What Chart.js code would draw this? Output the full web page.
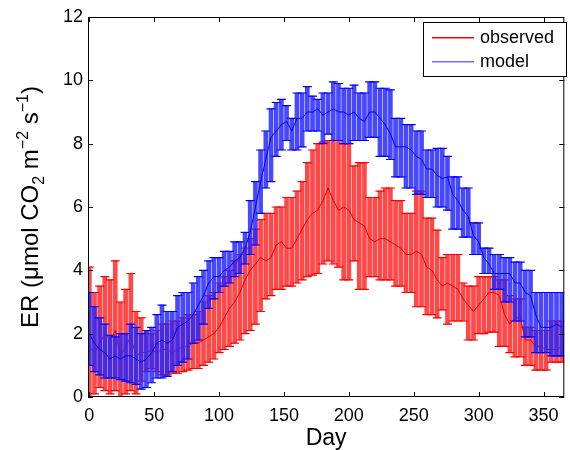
<!DOCTYPE html>
<html>
<head>
<meta charset="utf-8">
<script src="https://cdn.jsdelivr.net/npm/chart.js@4.4.0/dist/chart.umd.min.js"></script>
<style>
  html, body { margin: 0; padding: 0; background: #fff; }
  #wrap { width: 570px; height: 450px; }
</style>
</head>
<body>
<div id="wrap"><canvas id="er" width="570" height="450"></canvas></div>
<script>
// ER through the year: observed vs model, mean with error bars

const days = [0,4,8,12,16,20,24,28,32,36,40,44,48,52,56,60,64,68,72,76,80,84,88,92,96,100,104,108,112,116,
  120,124,128,132,136,140,144,148,152,156,160,164,168,172,176,180,184,188,192,196,200,204,208,212,216,220,224,228,232,236,
  240,244,248,252,256,260,264,268,272,276,280,284,288,292,296,300,304,308,312,316,320,324,328,332,336,340,344,348,352,356,360,364];

const obsMean = [1.6,1.4,1.7,2.0,1.8,2.1,1.3,1.6,1.9,1.3, 1.4,1.4,1.5,1.4,1.5,1.5,1.4,1.5,1.6,1.6,
  1.7,1.7,1.8,1.9,2.0,2.2,2.5,2.8,3.0,3.3, 3.7,4.0,4.2,4.4,4.3,4.4,4.8,4.9,4.7,4.7,
  5.0,5.3,5.6,5.8,5.9,6.2,6.6,6.2,5.9,6.0, 5.9,5.6,5.5,5.4,5.0,4.9,5.0,5.0,4.9,4.8,
  4.7,4.5,4.5,4.6,4.5,4.1,4.0,3.7,3.5,3.6, 3.5,3.4,3.1,2.9,2.7,2.9,3.1,3.3,3.3,3.2,
  2.6,2.3,2.5,2.5,1.8,1.8,1.6,1.6,1.5,1.5, 1.5,1.6];
const obsLo = [0.0,0.1,0.3,0.2,0.1,0.2,0.0,0.1,0.2,0.1, 0.5,0.8,0.9,0.8,0.7,0.7,0.75,0.75,0.8,0.85,
  0.9,0.9,1.0,1.1,1.2,1.4,1.5,1.6,1.7,1.8, 2.0,2.1,2.3,2.7,3.1,3.2,3.4,3.4,3.5,3.5,
  3.6,3.7,3.8,3.85,3.9,4.2,4.3,4.2,4.1,3.7, 3.7,4.3,3.4,3.4,3.8,3.8,3.7,3.7,3.7,3.5,
  3.5,3.3,3.3,2.85,2.85,2.6,2.6,2.5,2.75,2.3, 2.4,2.4,2.4,1.8,1.8,2.0,2.0,2.05,2.05,1.6,
  1.6,1.4,1.27,1.27,1.0,1.0,0.85,0.85,0.85,1.1, 1.1,1.1];
const obsHi = [4.1,3.3,3.5,3.8,3.7,4.3,3.0,3.4,3.9,2.7, 2.5,2.1,2.0,2.1,2.3,2.3,2.4,2.4,2.5,2.6,
  2.6,2.7,3.0,3.2,3.3,3.6,3.8,4.0,4.3,4.5, 4.7,5.0,5.3,5.6,5.8,5.8,6.0,6.0,6.3,6.3,
  6.5,6.8,7.4,7.8,8.0,8.05,8.1,8.1,8.1,8.0, 8.0,7.3,7.4,7.4,6.3,6.3,6.5,6.6,6.6,6.2,
  6.2,5.8,5.8,6.5,6.5,5.65,5.65,5.27,4.4,4.5, 4.5,4.5,3.6,3.5,3.5,3.8,3.8,3.8,3.8,3.7,
  3.7,3.2,3.1,3.1,2.2,2.2,2.1,2.1,2.1,2.4, 2.4,2.4];

const modMean = [2.0,1.7,1.5,1.4,1.2,1.3,1.2,1.3,1.3,1.2, 1.1,1.2,1.4,1.7,1.8,1.7,1.8,2.2,2.3,2.4,
  2.6,2.9,3.2,3.6,3.8,3.8,4.0,4.1,4.3,4.4, 4.7,5.2,6.0,6.8,7.5,8.2,8.4,8.6,8.7,8.4,
  8.8,8.8,9.0,9.0,9.1,8.9,9.0,9.1,9.0,9.0, 8.9,9.0,8.8,8.7,9.0,9.0,8.8,8.6,8.3,7.9,
  7.9,7.9,7.8,7.6,7.5,7.2,7.2,7.0,6.9,6.95, 6.4,6.2,5.9,5.7,5.1,4.9,4.4,4.2,3.9,3.9,
  3.9,3.9,3.6,3.6,3.3,3.2,2.6,2.2,2.2,2.2, 2.3,2.2];
const modLo = [1.0,0.8,0.7,0.6,0.6,0.6,0.55,0.5,0.45,0.4, 0.25,0.3,0.45,0.6,0.6,0.65,0.8,1.0,1.1,1.2,
  1.7,1.8,2.3,2.8,3.1,3.3,3.5,3.6,3.8,3.9, 4.2,4.5,4.8,5.8,6.6,6.8,7.6,7.8,8.1,7.8,
  7.8,7.9,8.4,8.4,8.4,8.0,8.3,8.1,8.1,8.0, 8.0,8.1,8.1,8.1,8.2,8.2,7.6,7.6,7.5,6.95,
  6.95,6.6,6.6,6.4,6.4,6.3,6.3,6.0,6.0,5.9, 5.3,5.3,5.05,5.05,4.5,4.5,3.9,3.9,3.4,3.4,
  3.0,3.0,2.4,2.4,1.9,1.9,1.4,1.4,1.4,1.3, 1.3,1.3];
const modHi = [3.3,2.85,2.5,2.3,1.95,1.9,2.0,2.0,2.3,2.2, 2.0,2.1,2.2,2.6,2.9,2.7,2.7,3.2,3.3,3.3,
  3.6,3.8,4.0,4.3,4.4,4.4,4.6,4.6,4.9,4.9, 5.2,6.2,6.8,7.8,8.4,9.1,9.3,9.4,9.2,8.8,
  9.6,9.6,9.8,9.5,9.4,9.6,9.6,9.95,9.9,9.75, 9.75,9.85,9.6,9.6,9.95,9.95,9.75,9.75,9.7,8.8,
  8.8,8.6,8.6,8.4,8.4,7.8,7.8,7.85,7.85,7.6, 6.95,6.95,6.6,6.6,5.5,5.5,4.7,4.7,4.5,4.5,
  4.4,4.4,4.26,4.26,4.0,4.0,3.3,3.3,3.3,3.3, 3.3,3.3];

const xTicks = [0,50,100,150,200,250,300,350];
const yTicks = [0,2,4,6,8,10,12];
const legendLabels = ['observed', 'model'];
const legendColors = ['rgb(255,0,0)', 'rgb(110,110,255)'];

const FONT = "'Liberation Sans', Arial, Helvetica, sans-serif";

function rangeData(lo, hi) {
  return days.map((d, i) => ({ x: d, y: [lo[i], hi[i]] }));
}
function capData(lo, hi) {
  return days.map((d, i) => ({ x: d, y: lo[i] })).concat(days.map((d, i) => ({ x: d, y: hi[i] })));
}
function lineData(vals) {
  return days.map((d, i) => ({ x: d, y: vals[i] }));
}

// box, inward ticks, titles (y title has sub/superscripts), legend box
const matlabFrame = {
  id: 'matlabFrame',
  afterDraw(chart) {
    const ctx = chart.ctx;
    const a = chart.chartArea;
    const xs = chart.scales.x, ys = chart.scales.y;
    ctx.save();
    ctx.strokeStyle = '#000';
    ctx.lineWidth = 1;
    ctx.strokeRect(a.left + 0.5, a.top + 0.5, a.right - a.left - 1, a.bottom - a.top - 1);
    ctx.beginPath();
    xTicks.forEach(v => {
      const px = Math.round(xs.getPixelForValue(v)) + 0.5;
      ctx.moveTo(px, a.bottom); ctx.lineTo(px, a.bottom - 5);
      ctx.moveTo(px, a.top); ctx.lineTo(px, a.top + 5);
    });
    yTicks.forEach(v => {
      const py = Math.round(ys.getPixelForValue(v)) + 0.5;
      ctx.moveTo(a.left, py); ctx.lineTo(a.left + 5, py);
      ctx.moveTo(a.right, py); ctx.lineTo(a.right - 5, py);
    });
    ctx.stroke();

    // x title
    ctx.fillStyle = '#000';
    ctx.font = '23px ' + FONT;
    ctx.textAlign = 'center';
    ctx.textBaseline = 'alphabetic';
    ctx.fillText('Day', (a.left + a.right) / 2, 445);

    // y title
    const parts = [
      { t: 'ER (\u03bcmol CO', k: 0 }, { t: '2', k: -1 }, { t: ' m', k: 0 },
      { t: '\u22122', k: 1 }, { t: ' s', k: 0 }, { t: '\u22121', k: 1 }, { t: ')', k: 0 }
    ];
    const big = '24px ' + FONT, small = '16px ' + FONT;
    let total = 0;
    parts.forEach(p => { ctx.font = p.k ? small : big; p.w = ctx.measureText(p.t).width; total += p.w; });
    ctx.translate(38, (a.top + a.bottom) / 2);
    ctx.rotate(-Math.PI / 2);
    ctx.textAlign = 'left';
    let cx = -total / 2;
    parts.forEach(p => {
      ctx.font = p.k ? small : big;
      const dy = p.k === -1 ? 6 : (p.k === 1 ? -10 : 0);
      ctx.fillText(p.t, cx, dy);
      cx += p.w;
    });
    ctx.restore();

    // legend
    ctx.save();
    const lx = 423, ly = 22, lw = 143, lh = 54;
    ctx.fillStyle = '#fff';
    ctx.fillRect(lx, ly, lw, lh);
    ctx.strokeStyle = '#000';
    ctx.lineWidth = 1;
    ctx.strokeRect(lx + 0.5, ly + 0.5, lw, lh);
    ctx.font = '18px ' + FONT;
    ctx.textBaseline = 'middle';
    ctx.textAlign = 'left';
    legendLabels.forEach((label, i) => {
      const y = ly + 15 + i * 24;
      ctx.fillStyle = legendColors[i];
      ctx.fillRect(432, y, 42, 1.5);
      ctx.fillStyle = '#000';
      ctx.fillText(label, 480, y + 1);
    });
    ctx.restore();
  }
};

const RED_BAR = 'rgba(255,40,40,0.85)';
const BLUE_BAR = 'rgba(40,40,255,0.85)';

new Chart(document.getElementById('er'), {
  type: 'bar',
  data: {
    datasets: [
      { type: 'line', label: 'model', data: lineData(modMean), borderColor: '#0000e0',
        borderWidth: 1, pointRadius: 0, order: 1 },
      { type: 'line', label: 'model caps', data: capData(modLo, modHi), showLine: false,
        pointStyle: 'line', pointRadius: 4.5, pointBorderColor: '#0000ff', pointBorderWidth: 1.2, order: 2 },
      { type: 'bar', label: 'model range', data: rangeData(modLo, modHi), backgroundColor: BLUE_BAR,
        barThickness: 4, grouped: false, order: 3 },
      { type: 'line', label: 'observed', data: lineData(obsMean), borderColor: '#e00000',
        borderWidth: 1, pointRadius: 0, order: 4 },
      { type: 'line', label: 'observed caps', data: capData(obsLo, obsHi), showLine: false,
        pointStyle: 'line', pointRadius: 4.5, pointBorderColor: '#ff0000', pointBorderWidth: 1.2, order: 5 },
      { type: 'bar', label: 'observed range', data: rangeData(obsLo, obsHi), backgroundColor: RED_BAR,
        barThickness: 4, grouped: false, order: 6 }
    ]
  },
  options: {
    responsive: false,
    devicePixelRatio: 1,
    animation: false,
    layout: { padding: { top: 17, right: 2, left: 0, bottom: 0 } },
    plugins: { legend: { display: false }, tooltip: { enabled: false } },
    scales: {
      x: {
        type: 'linear', min: -1, max: 366, offset: false,
        afterBuildTicks: s => { s.ticks = xTicks.map(v => ({ value: v })); },
        afterFit: s => { s.height = 53; },
        grid: { display: false, drawTicks: false, offset: false },
        border: { display: false },
        ticks: { color: '#000', font: { size: 18, family: FONT }, padding: 8, maxRotation: 0, autoSkip: false }
      },
      y: {
        min: 0, max: 12,
        afterBuildTicks: s => { s.ticks = yTicks.map(v => ({ value: v })); },
        afterFit: s => { s.width = 88; },
        grid: { display: false, drawTicks: false },
        border: { display: false },
        ticks: { color: '#000', font: { size: 18, family: FONT }, padding: 5 }
      }
    }
  },
  plugins: [matlabFrame]
});
</script>
</body>
</html>
